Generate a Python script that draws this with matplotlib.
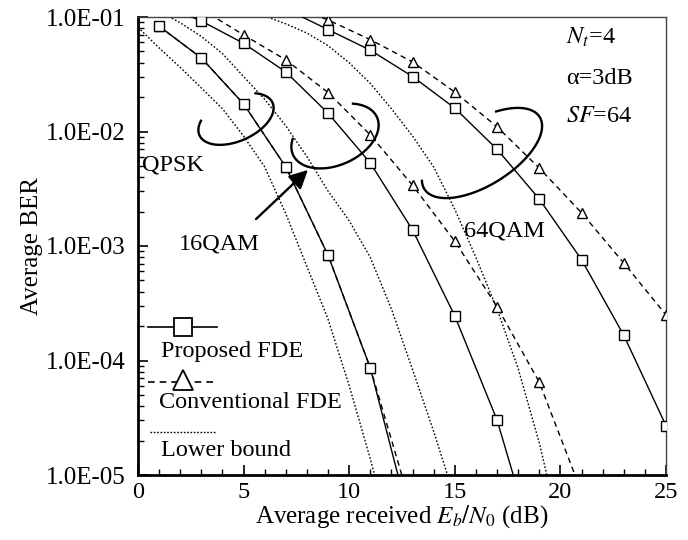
import numpy as np
import matplotlib
matplotlib.use('Agg')
import matplotlib.pyplot as plt
from matplotlib.ticker import FuncFormatter, LogLocator, MultipleLocator

plt.rcParams['font.family'] = ['Liberation Serif', 'DejaVu Serif']
plt.rcParams['mathtext.fontset'] = 'stix'

# Eb/N0 (dB) and BER
snr_qpsk = [1, 3, 5, 7, 9, 11, 13]
qpsk_prop = [0.083, 0.0439, 0.0174, 0.0049, 8.3e-4, 8.6e-5, 3.2e-6]
qpsk_conv = [0.083, 0.0439, 0.0174, 0.0049, 8.3e-4, 8.6e-5, 4.8e-6]

snr_16_prop = [1, 3, 5, 7, 9, 11, 13, 15, 17, 19]
qam16_prop = [0.132, 0.0923, 0.0589, 0.0331, 0.01445, 0.00531, 0.00138, 2.45e-4, 3.02e-5, 1.7e-6]
snr_16_conv = [3, 5, 7, 9, 11, 13, 15, 17, 19, 21]
qam16_conv = [0.1175, 0.0697, 0.0422, 0.0219, 0.00933, 0.00339, 0.0011, 2.95e-4, 6.46e-5, 7.1e-6]

snr_64 = [7, 9, 11, 13, 15, 17, 19, 21, 23, 25]
qam64_prop = [0.1175, 0.0776, 0.0513, 0.0302, 0.016, 0.0070, 0.00257, 7.6e-4, 1.66e-4, 2.7e-5]
qam64_conv = [0.132, 0.0942, 0.0634, 0.0405, 0.0221, 0.011, 0.00479, 0.00195, 7.1e-4, 2.5e-4]

snr_lb_qpsk = [0, 1, 2, 3, 4, 5, 6, 7, 8, 9, 10, 11, 12]
lb_qpsk = [0.0813, 0.0537, 0.0363, 0.0240, 0.0158, 0.00912, 0.0049, 0.00191, 6.61e-4,
           2.29e-4, 6.03e-5, 1.38e-5, 2.82e-6]
snr_lb_16 = [1, 2, 3, 4, 5, 6, 7, 8, 9, 10, 11, 12, 13, 14, 15]
lb_16 = [0.112, 0.0891, 0.0676, 0.0479, 0.0302, 0.0191, 0.0112, 0.00603, 0.00302,
         0.00166, 7.94e-4, 2.82e-4, 8.32e-5, 2.40e-5, 6.31e-6]
snr_lb_64 = [5, 6, 7, 8, 9, 10, 11, 12, 13, 14, 15, 16, 17, 18, 19, 20]
lb_64 = [0.117, 0.102, 0.0871, 0.0724, 0.0562, 0.0398, 0.0263, 0.0158, 0.00912, 0.0049,
         0.00209, 7.94e-4, 2.82e-4, 8.51e-5, 1.91e-5, 3.16e-6]

fig = plt.figure(figsize=(6.88, 5.4), dpi=100)
ax = fig.add_axes([138 / 688, 65 / 540, 528 / 688, 458 / 540])

dot = dict(color='black', lw=1.0, dashes=(1.2, 1.4))
dash = dict(color='black', lw=1.0, dashes=(4, 3), marker='^', ms=7.5,
            mfc='white', mec='black', mew=1.0)
solid = dict(color='black', lw=1.0, ls='-', marker='s', ms=7,
             mfc='white', mec='black', mew=1.0)

for x, y in [(snr_lb_qpsk, lb_qpsk), (snr_lb_16, lb_16), (snr_lb_64, lb_64)]:
    ax.plot(x, y, zorder=2, **dot)
for x, y in [(snr_qpsk, qpsk_conv), (snr_16_conv, qam16_conv), (snr_64, qam64_conv)]:
    ax.plot(x, y, zorder=3, **dash)
for x, y in [(snr_qpsk, qpsk_prop), (snr_16_prop, qam16_prop), (snr_64, qam64_prop)]:
    ax.plot(x, y, zorder=4, **solid)

ax.set_yscale('log')
ax.set_xlim(0, 25)
ax.set_ylim(1e-5, 1e-1)
ax.xaxis.set_major_locator(MultipleLocator(5))
ax.xaxis.set_minor_locator(MultipleLocator(1))
ax.yaxis.set_major_locator(LogLocator(base=10))
ax.yaxis.set_minor_locator(LogLocator(base=10, subs=np.arange(2, 10)))
ax.yaxis.set_major_formatter(FuncFormatter(lambda v, p: f'{v:.1E}'))
ax.tick_params(which='both', direction='in', top=False, right=False)
ax.tick_params(axis='y', labelsize=18, pad=9)
ax.tick_params(axis='x', labelsize=17.5, pad=5)
ax.tick_params(which='major', length=7, width=1.2)
ax.tick_params(which='minor', length=4, width=1.0)
for s in ['left', 'bottom']:
    ax.spines[s].set_linewidth(2.0)
for s in ['top', 'right']:
    ax.spines[s].set_linewidth(1.0)
    ax.spines[s].set_color('#444444')

ax.set_xlabel('Average received $E_b/N_0$ (dB)', fontsize=18, labelpad=0)
ax.set_ylabel('Average BER', fontsize=18, labelpad=2)

# overlay in pixel coordinates for the annotations
ov = fig.add_axes([0, 0, 1, 1], zorder=5)
ov.set_xlim(0, 688)
ov.set_ylim(540, 0)
ov.axis('off')
ov.patch.set_alpha(0)


def loop(cx, cy, a, b, ang, t0, t1):
    t = np.radians(np.linspace(t0, t1, 200))
    g = np.radians(ang)
    x = cx + a * np.cos(t) * np.cos(g) - b * np.sin(t) * np.sin(g)
    y = cy + a * np.cos(t) * np.sin(g) + b * np.sin(t) * np.cos(g)
    ov.plot(x, y, color='black', lw=1.7)


loop(236, 119, 40, 22, -24, -45, 215)
loop(335, 136, 46, 29, -24, -50, 210)
loop(482, 153, 68, 32, -32, -60, 195)

ov.annotate('', xy=(310, 168), xytext=(254, 221),
            arrowprops=dict(arrowstyle='-|>', lw=1.7, color='black', mutation_scale=28))

fs = 17.5
ov.text(142, 165, 'QPSK', fontsize=fs, ha='left', va='center')
ov.text(179, 244, '16QAM', fontsize=fs, ha='left', va='center')
ov.text(464, 231, '64QAM', fontsize=fs, ha='left', va='center')
ov.text(566, 37, '$N_t$=4', fontsize=fs, ha='left', va='center')
ov.text(566, 78, 'α=3dB', fontsize=fs, ha='left', va='center')
ov.text(566, 117, '$SF$=64', fontsize=fs, ha='left', va='center')

# legend samples
ov.plot([148, 217], [327, 327], color='black', lw=1.2)
ov.plot([183], [327], marker='s', ms=12.5, mfc='white', mec='black', mew=1.3)
ov.text(161, 352, 'Proposed FDE', fontsize=fs, ha='left', va='center')
ov.plot([148, 213], [382, 382], color='black', lw=1.2, dashes=(4, 3))
ov.plot([183], [380], marker='^', ms=14, mfc='white', mec='black', mew=1.3)
ov.text(159, 403, 'Conventional FDE', fontsize=fs, ha='left', va='center')
ov.plot([150, 215], [432, 432], color='black', lw=1.0, dashes=(1.2, 1.2))
ov.text(161, 450, 'Lower bound', fontsize=fs, ha='left', va='center')

fig.savefig('out.png', dpi=100)
